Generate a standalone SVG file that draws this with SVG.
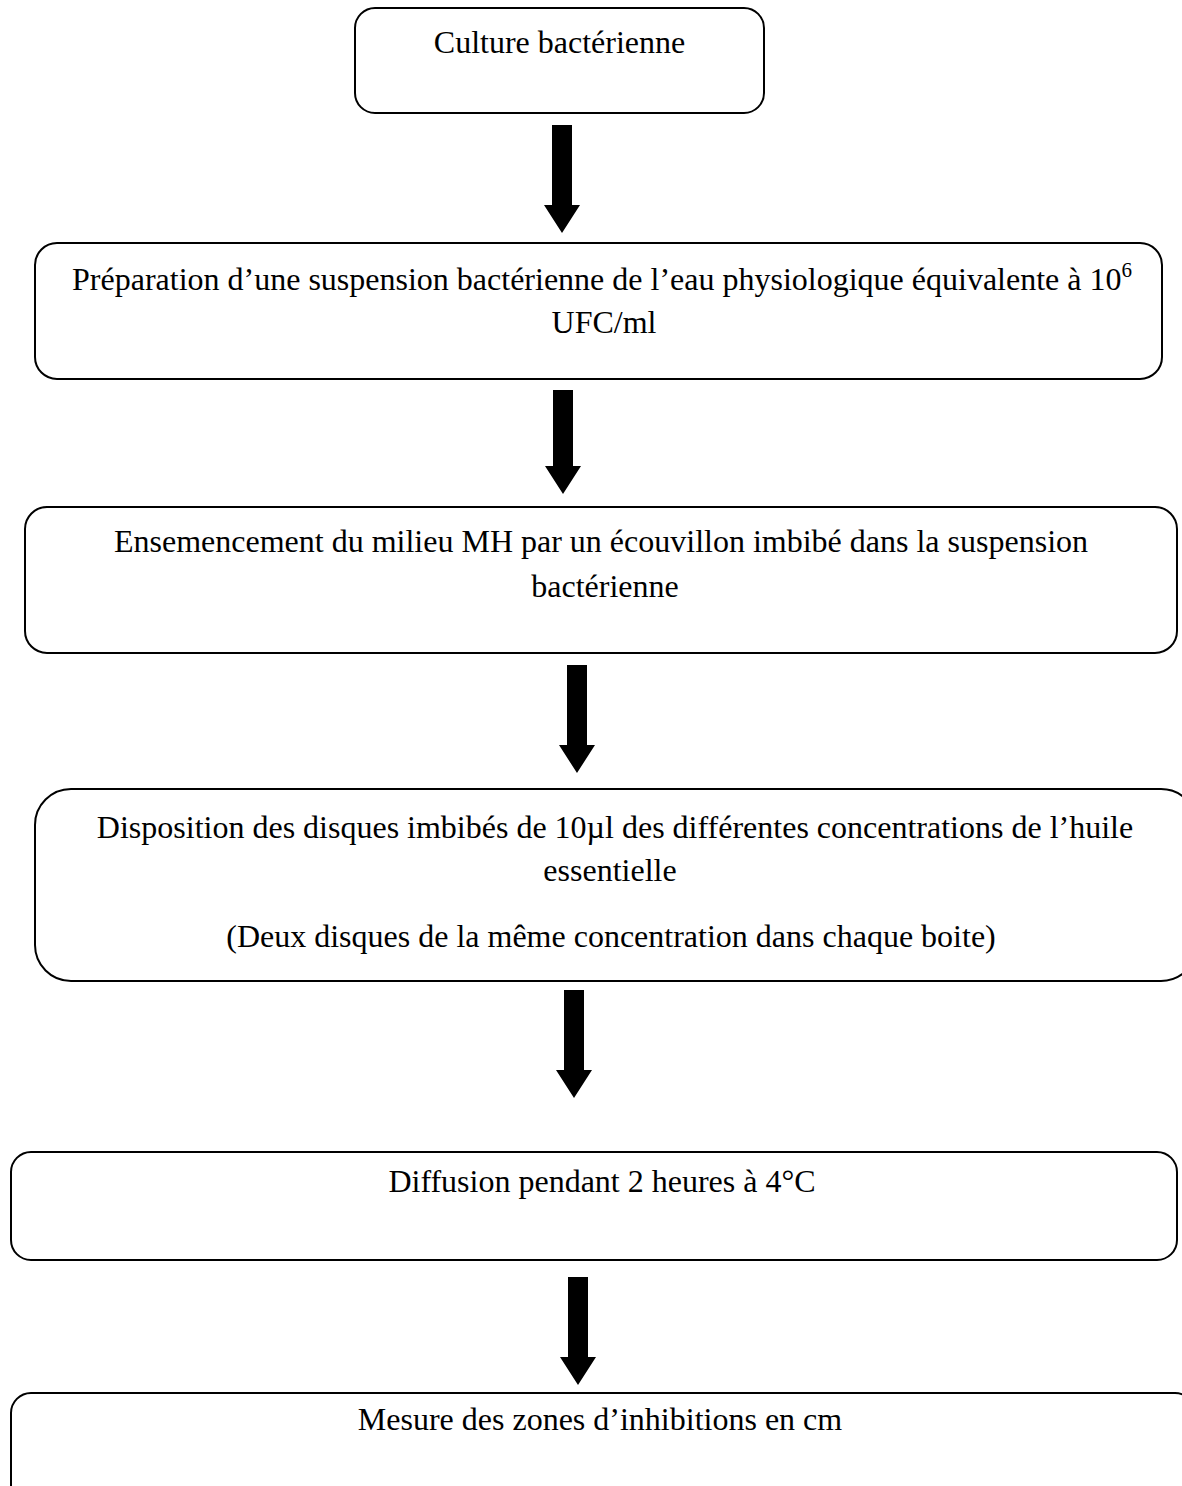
<svg xmlns="http://www.w3.org/2000/svg" width="1182" height="1486" viewBox="0 0 1182 1486">
<style>
.box{fill:#fff;stroke:#000;stroke-width:2}
.t{font-family:"Liberation Serif","Times New Roman",serif;font-size:32px;fill:#000;text-anchor:middle}
.arr{fill:#000}
</style>
<rect width="1182" height="1486" fill="#fff"/>
<g id="n1"><rect class="box" x="355" y="8" width="409" height="105" rx="20"/>
<text class="t" x="559.5" y="53">Culture bactérienne</text></g>
<g id="n2"><rect class="box" x="35" y="243" width="1127" height="136" rx="22"/>
<text class="t" x="602" y="290">Préparation d’une suspension bactérienne de l’eau physiologique équivalente à 10<tspan font-size="21" dy="-13">6</tspan></text>
<text class="t" x="604" y="333">UFC/ml</text></g>
<g id="n3"><rect class="box" x="25" y="507" width="1152" height="146" rx="22"/>
<text class="t" x="601" y="552">Ensemencement du milieu MH par un écouvillon imbibé dans la suspension</text>
<text class="t" x="605" y="597">bactérienne</text></g>
<g id="n4"><rect class="box" x="35" y="789" width="1162" height="192" rx="36"/>
<text class="t" x="615" y="838">Disposition des disques imbibés de 10µl des différentes concentrations de l’huile</text>
<text class="t" x="610" y="881">essentielle</text>
<text class="t" x="611" y="947">(Deux disques de la même concentration dans chaque boite)</text></g>
<g id="n5"><rect class="box" x="11" y="1152" width="1166" height="108" rx="20"/>
<text class="t" x="602" y="1192">Diffusion pendant 2 heures à 4°C</text></g>
<g id="n6"><rect class="box" x="11" y="1393" width="1184" height="150" rx="20"/>
<text class="t" x="600" y="1430">Mesure des zones d’inhibitions en cm</text></g>
<g id="connectors">
<polygon class="arr" points="552,125 572,125 572,205 580,205 562,233 544,205 552,205"/>
<polygon class="arr" points="553,390 573,390 573,466 581,466 563,494 545,466 553,466"/>
<polygon class="arr" points="567,665 587,665 587,745 595,745 577,773 559,745 567,745"/>
<polygon class="arr" points="564,990 584,990 584,1070 592,1070 574,1098 556,1070 564,1070"/>
<polygon class="arr" points="568,1277 588,1277 588,1357 596,1357 578,1385 560,1357 568,1357"/>
</g>
</svg>
